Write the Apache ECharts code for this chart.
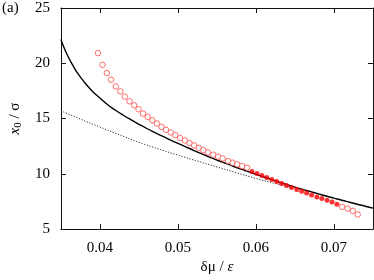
<!DOCTYPE html>
<html>
<head>
<meta charset="utf-8">
<script src="https://cdn.jsdelivr.net/npm/echarts@6/dist/echarts.min.js"></script>
<style>html,body{margin:0;padding:0;background:#fff}#c{width:374px;height:280px}</style>
</head>
<body>
<div id="c"></div>
<script>
// Tick labels
var xTicks = [0.04, 0.05, 0.06, 0.07];
var yTicks = [5, 10, 15, 20, 25];

// Open circles (simulation, left branch)
var openX1 = [0.03975,0.04034,0.04089,0.04143,0.04203,0.04262,0.04320,0.04380,0.04439,0.04494,0.04553,0.04611,0.04671,0.04730,0.04789,0.04848,0.04908,0.04966,0.05029,0.05089,0.05148,0.05206,0.05266,0.05325,0.05384,0.05452,0.05515,0.05573,0.05642,0.05700,0.05759,0.05823,0.05886];
var openY1 = [20.92,19.86,19.12,18.51,17.91,17.46,16.98,16.56,16.20,15.84,15.45,15.15,14.85,14.55,14.25,13.98,13.74,13.50,13.23,13.02,12.78,12.57,12.36,12.14,11.94,11.73,11.55,11.40,11.15,11.01,10.86,10.70,10.56];
// Open circles (right end)
var openX2 = [0.07105,0.07173,0.07241,0.07304];
var openY2 = [7.01,6.86,6.65,6.32];
// Filled circles
var fillX = [0.05949,0.06013,0.06076,0.06139,0.06203,0.06266,0.06329,0.06392,0.06456,0.06523,0.06586,0.06649,0.06713,0.06781,0.06844,0.06911,0.06975,0.07038];
var fillY = [10.20,10.02,9.84,9.66,9.48,9.30,9.12,8.94,8.76,8.58,8.42,8.27,8.09,7.91,7.77,7.61,7.46,7.25];
// Solid curve
var solidX = [0.035,0.0355,0.036,0.0365,0.037,0.038,0.039,0.040,0.041,0.042,0.043,0.044,0.045,0.046,0.047,0.048,0.049,0.050,0.051,0.052,0.053,0.054,0.055,0.056,0.057,0.058,0.059,0.060,0.061,0.062,0.063,0.064,0.065,0.066,0.067,0.068,0.069,0.070,0.071,0.072,0.073,0.074,0.075];
var solidY = [22.15,21.25,20.5,19.85,19.25,18.3,17.5,16.85,16.25,15.75,15.3,14.88,14.48,14.1,13.75,13.41,13.08,12.75,12.44,12.13,11.83,11.54,11.25,10.98,10.71,10.45,10.20,9.95,9.71,9.48,9.25,9.02,8.80,8.59,8.39,8.19,7.99,7.80,7.61,7.43,7.25,7.07,6.90];
// Dotted curve
var dotX = [0.035,0.0375,0.040,0.0425,0.045,0.0475,0.050,0.0525,0.055,0.0575,0.060,0.0625,0.0645];
var dotY = [15.70,14.95,14.23,13.53,12.85,12.25,11.69,11.15,10.62,10.10,9.58,9.12,8.76];

function zip(a, b) { return a.map(function (v, i) { return [v, b[i]]; }); }

var FONT = 'Liberation Serif';
var axisCol = '#111';
var chart = echarts.init(document.getElementById('c'), null, {renderer: 'canvas'});
var xBase = {
  type: 'value', min: 0.035, max: 0.075,
  axisLine: {show: true, onZero: false, lineStyle: {color: axisCol, width: 1}},
  axisTick: {show: true, inside: true, length: 5, customValues: xTicks, lineStyle: {color: axisCol}},
  splitLine: {show: false}
};
var yBase = {
  type: 'value', min: 5, max: 25, interval: 5,
  axisLine: {show: true, onZero: false, lineStyle: {color: axisCol, width: 1}},
  axisTick: {show: true, inside: true, length: 5, lineStyle: {color: axisCol}},
  splitLine: {show: false}
};
chart.setOption({
  animation: false,
  grid: {left: 57, right: 1, top: 8, bottom: 50, containLabel: false},
  xAxis: [
    Object.assign({}, xBase, {
      position: 'bottom',
      axisLabel: {customValues: xTicks, margin: 11, color: '#000', fontFamily: FONT, fontSize: 15,
        formatter: function (v) { return v.toFixed(2); }},
      name: '{g|δμ / }{i|ε}', nameLocation: 'middle', nameGap: 30,
      nameTextStyle: {fontFamily: FONT, fontSize: 15, color: '#000',
        rich: {g: {fontFamily: FONT, fontSize: 15, color: '#000'}, i: {fontFamily: FONT, fontSize: 15, fontStyle: 'italic', color: '#000'}}}
    }),
    Object.assign({}, xBase, {position: 'top', axisLabel: {show: false}})
  ],
  yAxis: [
    Object.assign({}, yBase, {
      position: 'left',
      axisLabel: {margin: 11, color: '#000', fontFamily: FONT, fontSize: 15},
      name: '{i|x}{s|0}{g| / σ}', nameLocation: 'middle', nameGap: 27, nameRotate: 90,
      nameTextStyle: {fontFamily: FONT, fontSize: 15, color: '#000',
        rich: {
          i: {fontFamily: FONT, fontSize: 15, fontStyle: 'italic', color: '#000'},
          s: {fontFamily: FONT, fontSize: 11, color: '#000', verticalAlign: 'bottom', padding: [6, 0, 0, 0]},
          g: {fontFamily: FONT, fontSize: 15, color: '#000'}
        }}
    }),
    Object.assign({}, yBase, {position: 'right', axisLabel: {show: false}})
  ],
  graphic: [{
    type: 'text', left: 2, top: 1,
    style: {text: '(a)', fontFamily: FONT, fontSize: 15, fill: '#000'}
  }],
  series: [
    {type: 'line', data: zip(solidX, solidY), showSymbol: false, smooth: true, lineStyle: {color: '#000', width: 1.4}, z: 3},
    {type: 'line', data: zip(dotX, dotY), showSymbol: false, smooth: true, lineStyle: {color: '#333', width: 1, type: [1.2, 1.6]}, z: 2},
    {type: 'scatter', data: zip(openX1, openY1), symbol: 'circle', symbolSize: 5.5,
      itemStyle: {color: '#fff', borderColor: '#ff4a4a', borderWidth: 1}, z: 4},
    {type: 'scatter', data: zip(openX2, openY2), symbol: 'circle', symbolSize: 5.5,
      itemStyle: {color: '#fff', borderColor: '#ff4a4a', borderWidth: 1}, z: 4},
    {type: 'scatter', data: zip(fillX, fillY), symbol: 'circle', symbolSize: 5,
      itemStyle: {color: '#ff0000'}, z: 5}
  ]
});
</script>
</body>
</html>
